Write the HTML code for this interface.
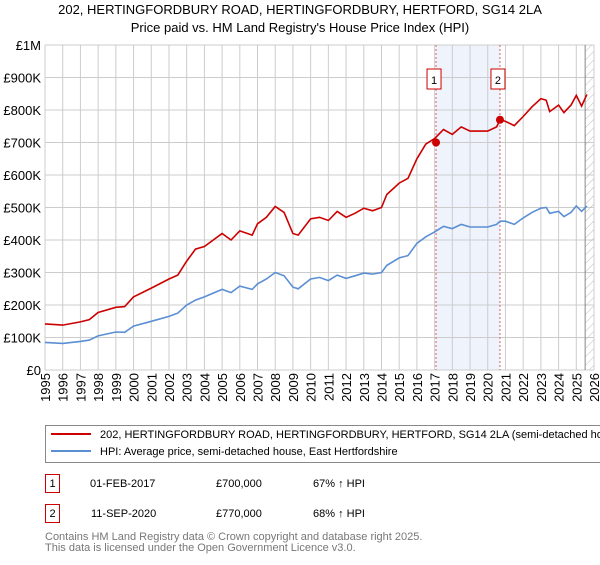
<!DOCTYPE html>
<html><head><meta charset="utf-8"><style>
body{margin:0;background:#fff;font-family:"Liberation Sans","DejaVu Sans",sans-serif;}
svg text{font-family:"Liberation Sans","DejaVu Sans",sans-serif;}
</style></head><body>
<svg id="c" width="600" height="560" xmlns="http://www.w3.org/2000/svg">
<text x="300" y="14" text-anchor="middle" font-size="13">202, HERTINGFORDBURY ROAD, HERTINGFORDBURY, HERTFORD, SG14 2LA</text>
<text x="300" y="32" text-anchor="middle" font-size="13">Price paid vs. HM Land Registry's House Price Index (HPI)</text>
<g id="grid"></g><g id="marks"></g>
<g>
<rect x="45.5" y="425.5" width="560" height="37" fill="#fff" stroke="#888"/>
<line x1="51" y1="434" x2="91" y2="434" stroke="#cc0000" stroke-width="2"/>
<text x="100" y="438" font-size="11">202, HERTINGFORDBURY ROAD, HERTINGFORDBURY, HERTFORD, SG14 2LA (semi-detached house)</text>
<line x1="51" y1="451" x2="91" y2="451" stroke="#5b8fd4" stroke-width="2"/>
<text x="100" y="455" font-size="11">HPI: Average price, semi-detached house, East Hertfordshire</text>
</g>
<g font-size="11">
<rect x="45.5" y="474.5" width="14" height="18" fill="none" stroke="#cc0000"/><text x="52.5" y="487" text-anchor="middle">1</text>
<text x="90" y="487">01-FEB-2017</text><text x="216" y="487">£700,000</text><text x="313" y="487">67% ↑ HPI</text>
<rect x="45.5" y="504.5" width="14" height="18" fill="none" stroke="#cc0000"/><text x="52.5" y="517" text-anchor="middle">2</text>
<text x="91" y="517">11-SEP-2020</text><text x="216" y="517">£770,000</text><text x="313" y="517">68% ↑ HPI</text>
</g>
<text x="45" y="540" font-size="11" fill="#777">Contains HM Land Registry data © Crown copyright and database right 2025.</text>
<text x="45" y="551" font-size="11" fill="#777">This data is licensed under the Open Government Licence v3.0.</text>
</svg>
<script>
const years=[1995,1996,1997,1997.5,1998,1999,1999.5,2000,2001,2002,2002.5,2003,2003.5,2004,2005,2005.5,2006,2006.7,2007,2007.5,2008,2008.5,2009,2009.3,2010,2010.5,2011,2011.5,2012,2012.5,2013,2013.5,2014,2014.3,2015,2015.5,2016,2016.5,2017,2017.5,2018,2018.5,2019,2019.5,2020,2020.5,2020.7,2021,2021.5,2022,2022.5,2023,2023.3,2023.5,2024,2024.3,2024.7,2025,2025.3,2025.6];
const hpiValues=[85,82,88,92,105,117,116,135,150,165,175,200,215,225,248,238,258,248,265,280,300,290,255,250,280,285,275,292,282,290,298,295,300,322,345,352,390,410,425,442,435,448,440,440,440,448,458,458,448,468,485,498,500,482,488,472,485,505,488,505];
const priceValues=[142,138,148,155,177,193,195,225,252,280,292,335,372,380,420,400,428,415,450,470,503,485,420,415,465,470,460,488,470,482,498,490,500,540,575,590,650,695,712,740,725,748,735,735,735,748,770,765,752,780,810,835,830,795,815,792,815,845,812,848];
const saleYears=[2017.08,2020.69];
const saleValues=[700,770];
const saleLabels=["1","2"];
const yTicks=[0,100,200,300,400,500,600,700,800,900,1000];
const yTickLabels=["£0","£100K","£200K","£300K","£400K","£500K","£600K","£700K","£800K","£900K","£1M"];
const xTicks=[1995,1996,1997,1998,1999,2000,2001,2002,2003,2004,2005,2006,2007,2008,2009,2010,2011,2012,2013,2014,2015,2016,2017,2018,2019,2020,2021,2022,2023,2024,2025,2026];

const L=45,R=594,T=45,B=370,NS="http://www.w3.org/2000/svg";
const xs=y=>L+(y-1995)/31*(R-L);
const ys=v=>B-v/1000*(B-T);
function mk(tag,attrs,parent,txt){const e=document.createElementNS(NS,tag);for(const k in attrs)e.setAttribute(k,attrs[k]);if(txt!==undefined)e.textContent=txt;parent.appendChild(e);return e;}
const g=document.getElementById('grid'),m=document.getElementById('marks');
let band=mk('rect',{x:xs(saleYears[0]),y:T,width:xs(saleYears[1])-xs(saleYears[0]),height:B-T,fill:'#eef3fc'},g);


yTicks.forEach((v,i)=>{
 mk('line',{x1:L,x2:R,y1:ys(v),y2:ys(v),stroke:'#ccc'},g);
 let t=mk('text',{x:L-4,y:ys(v)+5,'text-anchor':'end','font-size':'13'},g,yTickLabels[i]);
 
 
});
xTicks.forEach(yr=>{
 mk('line',{x1:xs(yr),x2:xs(yr),y1:T,y2:B,stroke:'#ccc'},g);
 let t=mk('text',{x:0,y:0,transform:`translate(${xs(yr)+5},${B+3}) rotate(-90)`,'text-anchor':'end','font-size':'13'},g,String(yr));
 
 
});
let defs=mk('defs',{},g);
let p=mk('pattern',{id:'h',width:6,height:6,patternUnits:'userSpaceOnUse',patternTransform:'rotate(45)'},defs);
mk('line',{x1:0,y1:0,x2:0,y2:6,stroke:'#bbb'},p);
let hat=mk('rect',{x:xs(2025.5),y:T,width:R-xs(2025.5),height:B-T,fill:'url(#h)'},g);


mk('line',{x1:xs(2025.5),x2:xs(2025.5),y1:T,y2:B,stroke:'#888'},g);
mk('line',{x1:L,x2:L,y1:T,y2:B,stroke:'#ccc'},g);
saleYears.forEach((yr,i)=>{
 let l=mk('line',{x1:xs(yr),x2:xs(yr),y1:T,y2:B,stroke:'#e06060','stroke-dasharray':'2,2'},g);
 
 
 mk('rect',{x:xs(yr)-9,y:69,width:14,height:20,fill:'#fff',stroke:'#cc0000'},g);
 mk('text',{x:xs(yr)-2,y:84,'text-anchor':'middle','font-size':'11'},g,saleLabels[i]);
});
function line(vals,color,name){
 let d=years.map((y,i)=>(i?'L':'M')+xs(y).toFixed(1)+','+ys(vals[i]).toFixed(1)).join('');
 let e=mk('path',{d:d,fill:'none',stroke:color,'stroke-width':1.6},m);
 
 
}
line(hpiValues,'#5b8fd4','hpi-line');
line(priceValues,'#cc0000','property-price-line');
saleYears.forEach((yr,i)=>{
 let c=mk('circle',{cx:xs(yr),cy:ys(saleValues[i]),r:4,fill:'#cc0000'},m);
 
 
});
</script>
</body></html>
